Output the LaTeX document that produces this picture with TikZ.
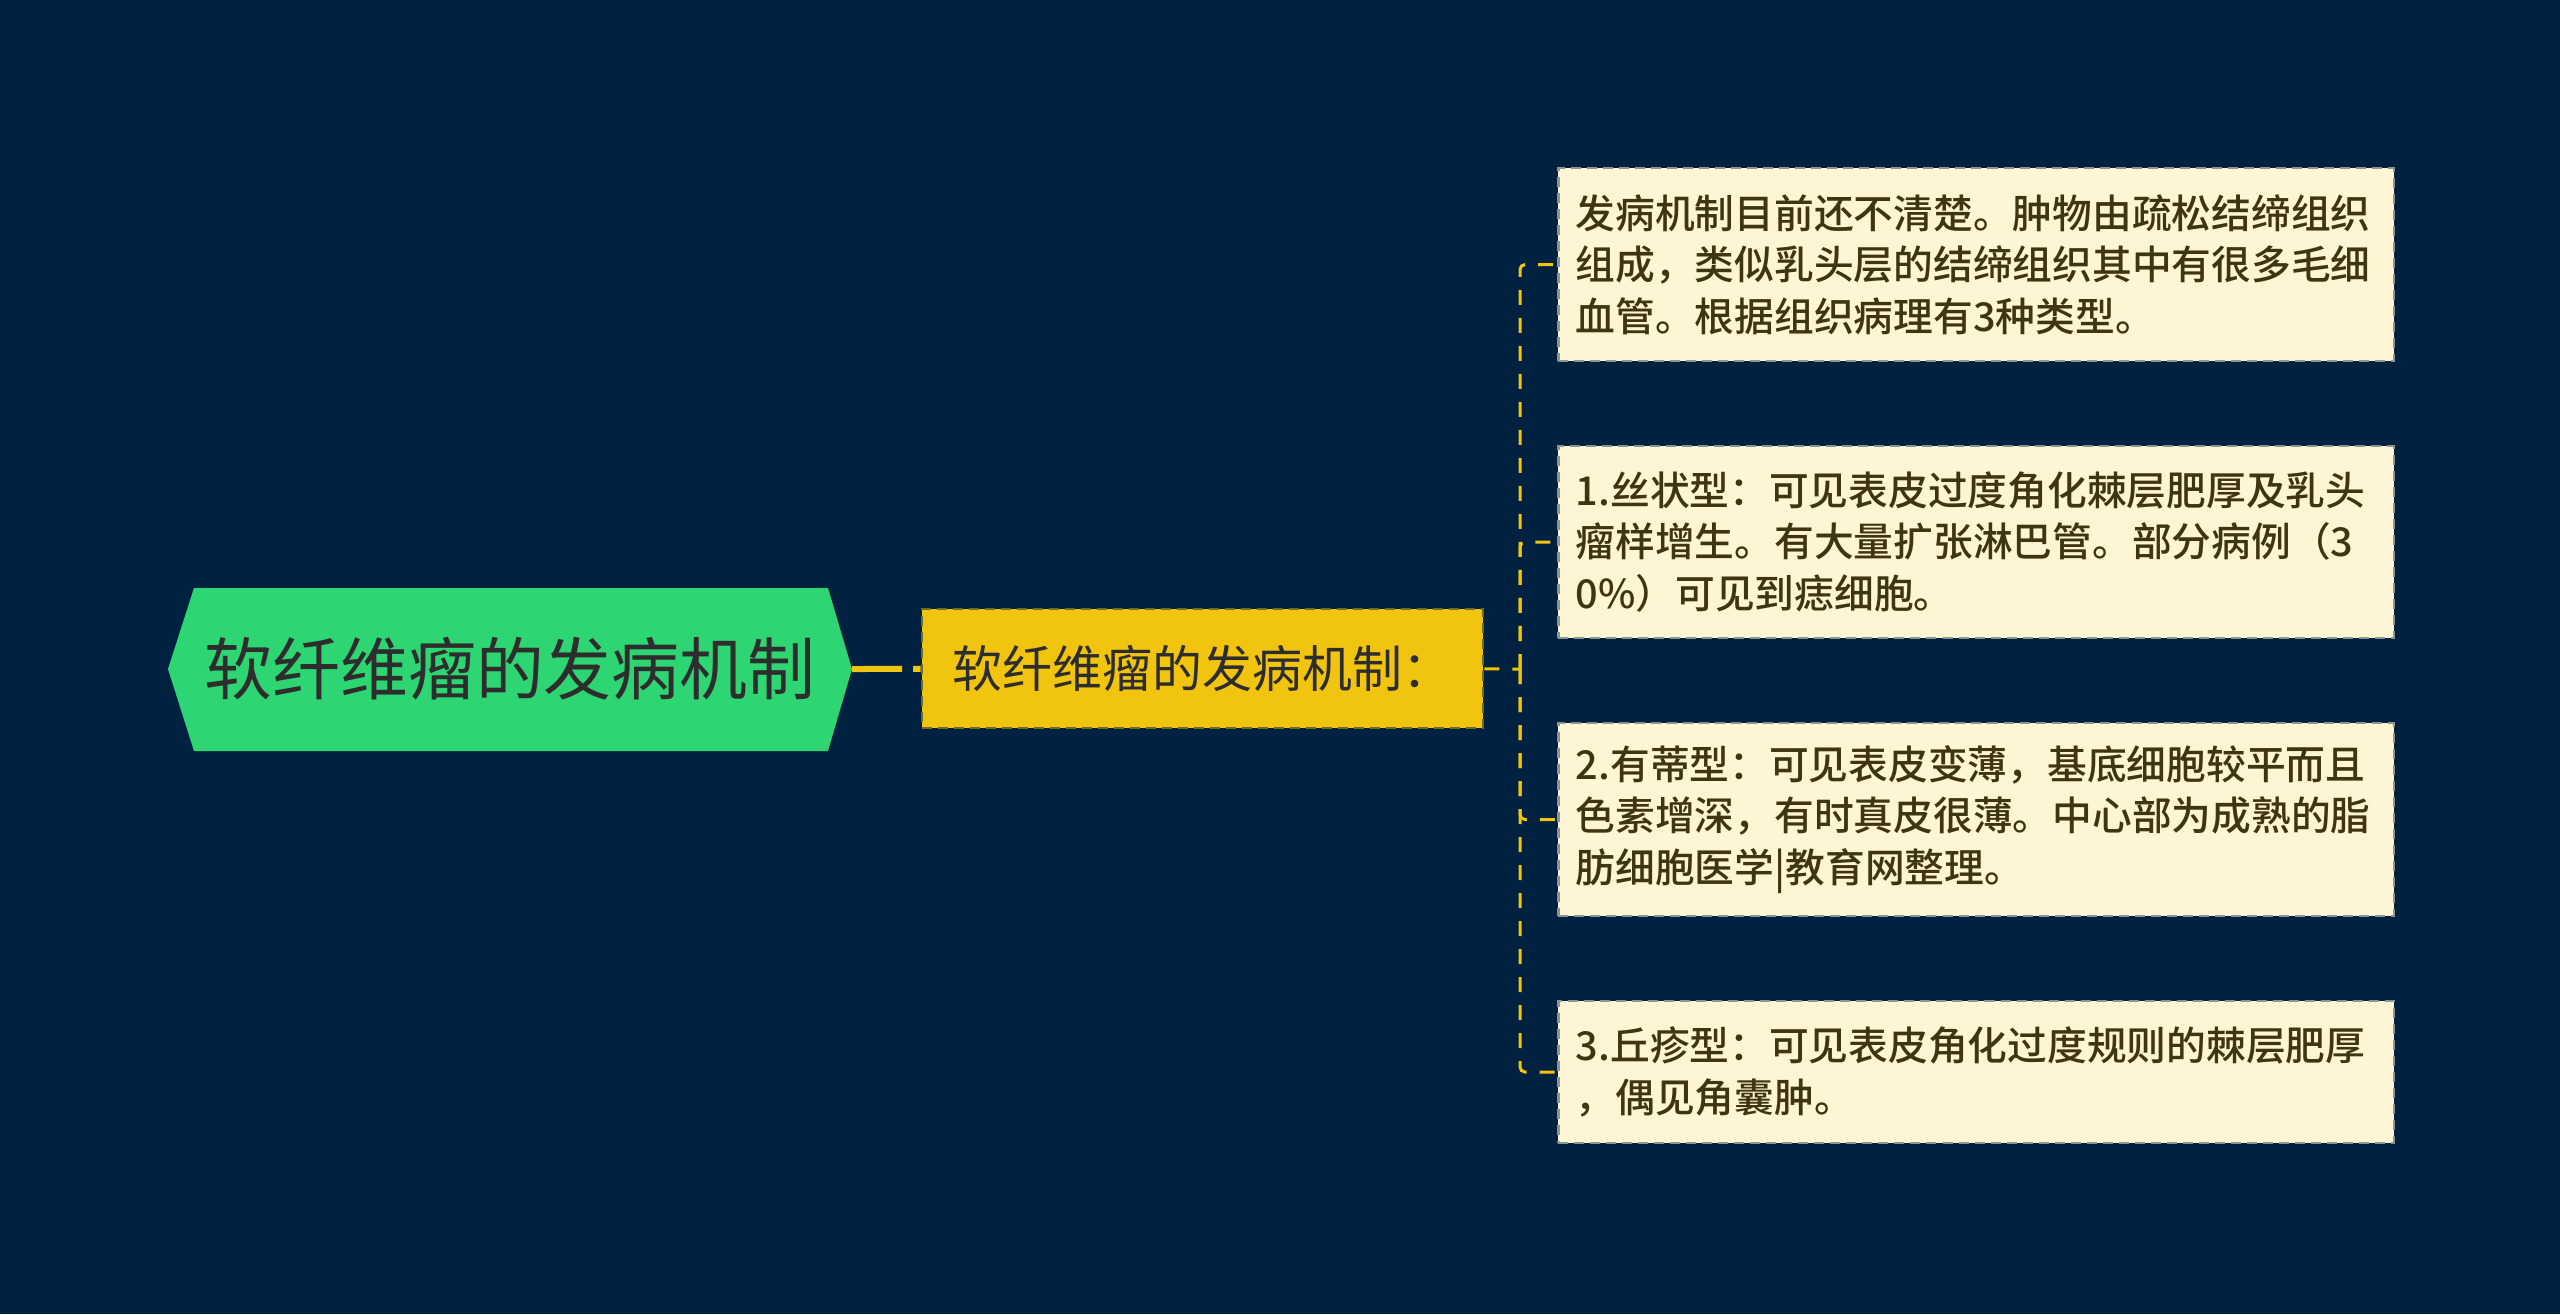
\documentclass[tikz,border=0pt]{standalone}
\usepackage{fontspec}
\setmainfont{Noto Sans CJK SC}
\newfontfamily\moyen{Noto Sans CJK SC}[UprightFont={* Medium}]
\usepackage{tikz}
\definecolor{fond}{HTML}{012140}
\definecolor{vert}{HTML}{2ED573}
\definecolor{jaune}{HTML}{F1C40F}
\definecolor{creme}{HTML}{FEF5D4}
\definecolor{brun}{HTML}{3F3510}
\definecolor{gris}{HTML}{2D2D2D}
\tikzset{
	lien/.style={draw=jaune,line width=0.03cm,dash pattern=on 0.15cm off 0.13cm,rounded corners=0.05cm},
	lienfort/.style={draw=jaune,line width=0.06cm,dash pattern=on 0.5cm off 0.11cm},
	tige/.style={fill=jaune,draw=fond!55!jaune,line width=0.025cm,dash pattern=on 0.1cm off 0.06cm,
		minimum width=5.61cm,minimum height=1.19cm,inner sep=0pt,text=gris,
		font=\fontsize{14.2pt}{17pt}\selectfont},
	feuille/.style={fill=creme,draw=fond!45!creme,line width=0.025cm,dash pattern=on 0.1cm off 0.06cm,
		anchor=west,text width=8cm,inner xsep=0.175cm,inner ysep=0pt,align=left,text=brun,
		font=\moyen\fontsize{11.3pt}{14.6pt}\selectfont}
}
\begin{document}
\begin{tikzpicture}[x=0.01cm,y=-0.01cm]
	\def\largeur{2560}
	\def\hauteur{1314}
	\def\xTronc{1520}
	\def\xFeuille{1557}
	\fill[fond] (0,0) rectangle (\largeur,\hauteur);
	\useasboundingbox (0,0) rectangle (\largeur,\hauteur);
	
	%Hexagone racine
	\coordinate (pointe) at (852,669);
	\fill[vert] (168,669) -- (194,588) -- (828,588) -- (pointe) -- (828,751) -- (194,751) -- cycle;
	\node[text=gris,font=\fontsize{19.3pt}{23pt}\selectfont] (racine) at (510,669) {软纤维瘤的发病机制};
	
	%Noeud central
	\node[tige] (titre) at (1202.5,668.5) {软纤维瘤的发病机制：};
	
	%Feuilles
	\node[feuille,minimum height=1.93cm] (f1) at (\xFeuille,264.5) {发病机制目前还不清楚。肿物由疏松结缔组织\\组成，类似乳头层的结缔组织其中有很多毛细\\血管。根据组织病理有3种类型。};
	\node[feuille,minimum height=1.92cm] (f2) at (\xFeuille,542) {1.丝状型：可见表皮过度角化棘层肥厚及乳头\\瘤样增生。有大量扩张淋巴管。部分病例（3\\0\%）可见到痣细胞。};
	\node[feuille,minimum height=1.93cm] (f3) at (\xFeuille,819.5) {2.有蒂型：可见表皮变薄，基底细胞较平而且\\色素增深，有时真皮很薄。中心部为成熟的脂\\肪细胞医学|教育网整理。};
	\node[feuille,minimum height=1.42cm] (f4) at (\xFeuille,1072) {3.丘疹型：可见表皮角化过度规则的棘层肥厚\\，偶见角囊肿。};
	
	%Liens
	\coordinate (tronc) at (\xTronc,669);
	\draw[lienfort] (pointe) -- (titre);
	\draw[lien] (titre) -- (tronc);
	\foreach \f in {f1,f2,f3,f4}{
		\draw[lien] (tronc) |- (\f);
	}
\end{tikzpicture}
\end{document}
